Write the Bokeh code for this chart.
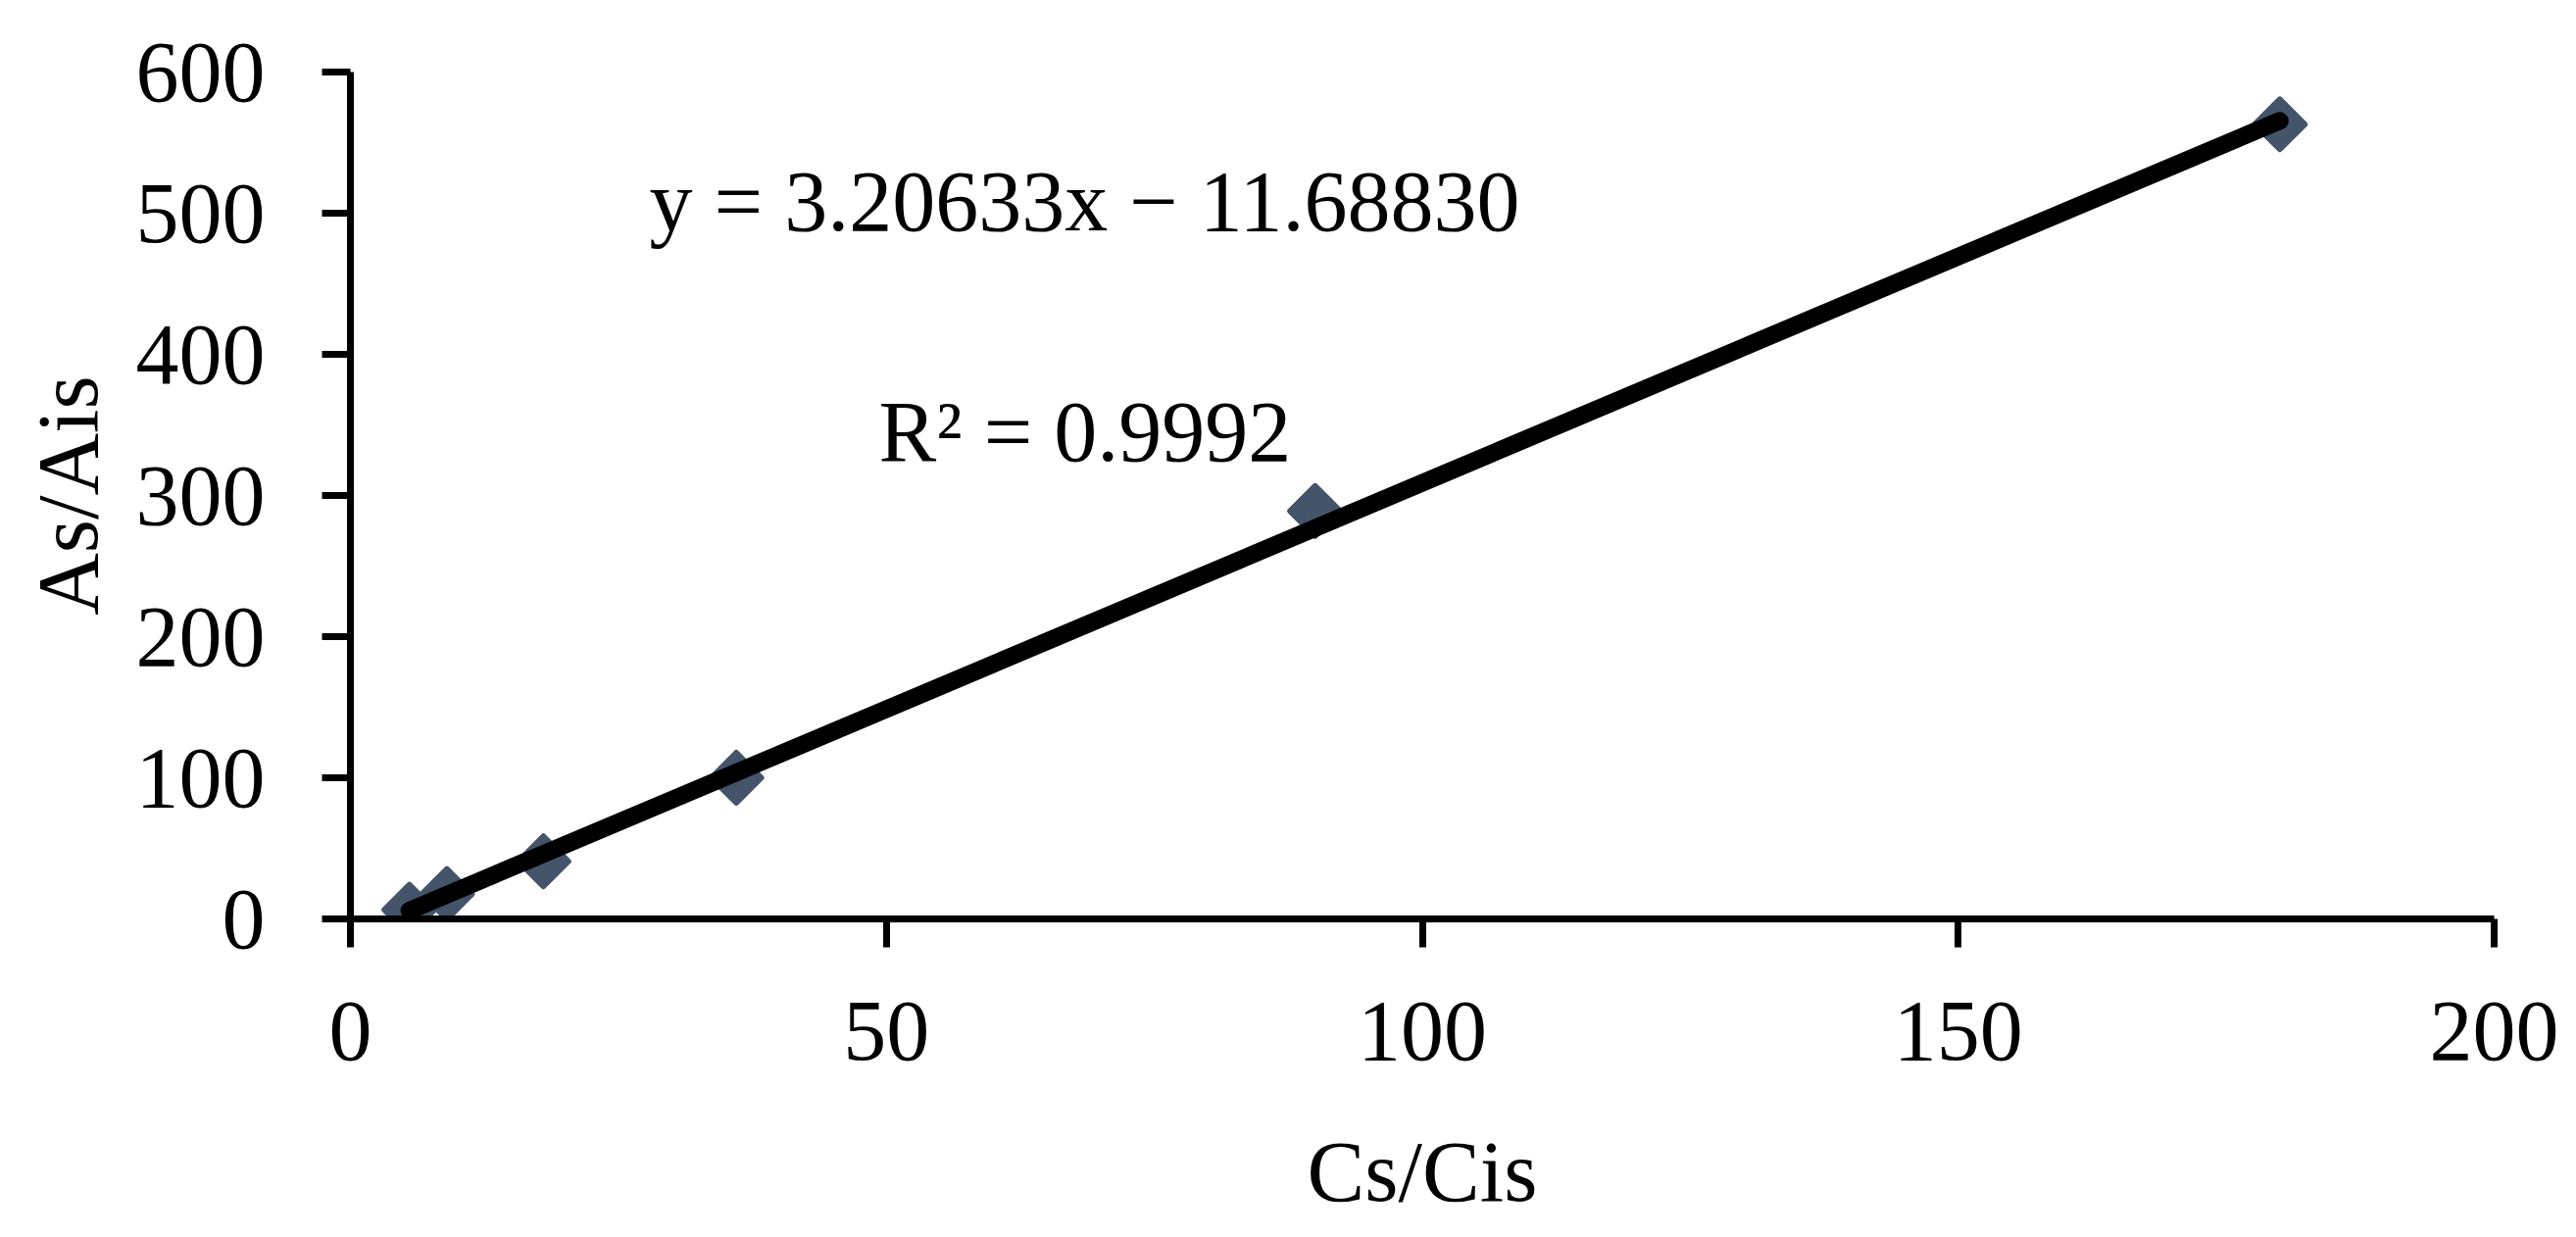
import numpy as np
from bokeh.plotting import figure
from bokeh.models import Range1d, Label, FixedTicker
from bokeh.embed import file_html
from bokeh.resources import INLINE

# data
cs_cis = [5.5, 9, 18, 36, 90, 180]
as_ais = [6.5, 17.6, 40.8, 100, 289, 563]
slope = 3.20633
intercept = -11.68830
r2 = 0.9992
x_ticks = [0, 50, 100, 150, 200]
y_ticks = [0, 100, 200, 300, 400, 500, 600]
x_title = "Cs/Cis"
y_title = "As/Ais"

FONT = "Liberation Serif"
FS = "88px"

p = figure(width=2628, height=1262, output_backend="svg", toolbar_location=None,
           x_range=Range1d(0, 200), y_range=Range1d(0, 600),
           min_border_left=357, min_border_right=84, min_border_top=73, min_border_bottom=325)
p.outline_line_color = None
p.xgrid.grid_line_color = None
p.ygrid.grid_line_color = None
p.background_fill_color = "white"
p.border_fill_color = "white"

for ax in (p.xaxis[0], p.yaxis[0]):
    ax.axis_line_width = 7
    ax.axis_line_color = "black"
    ax.major_tick_line_width = 7
    ax.major_tick_line_color = "black"
    ax.major_tick_out = 29
    ax.major_tick_in = 0
    ax.minor_tick_line_color = None
    ax.major_label_text_font = FONT
    ax.major_label_text_font_size = FS
    ax.major_label_text_color = "black"
    ax.axis_label_text_font = FONT
    ax.axis_label_text_font_size = FS
    ax.axis_label_text_font_style = "normal"
    ax.axis_label_text_color = "black"

p.xaxis.ticker = FixedTicker(ticks=x_ticks)
p.yaxis.ticker = FixedTicker(ticks=y_ticks)
p.xaxis.axis_label = x_title
p.yaxis.axis_label = y_title
p.xaxis.major_label_standoff = 56
p.yaxis.major_label_standoff = 58
p.xaxis.axis_label_standoff = 63
p.yaxis.axis_label_standoff = 18

p.scatter(cs_cis, as_ais, marker="square", angle=np.pi / 4, size=36,
          fill_color="#44546A", line_color="#44546A", line_width=6, line_join="round")

fx = [min(cs_cis), max(cs_cis)]
fy = [slope * v + intercept for v in fx]
p.line(fx, fy, line_color="black", line_width=18, line_cap="round")

common = dict(text_font=FONT, text_font_size=FS, text_color="black", text_baseline="alphabetic")
p.add_layout(Label(x=27.9, y=508, text="y = %.5fx − %.5f" % (slope, -intercept), **common))
p.add_layout(Label(x=49.3, y=345, text="R² = %.4f" % r2, **common))

open("out.html", "w").write(file_html(p, INLINE))
